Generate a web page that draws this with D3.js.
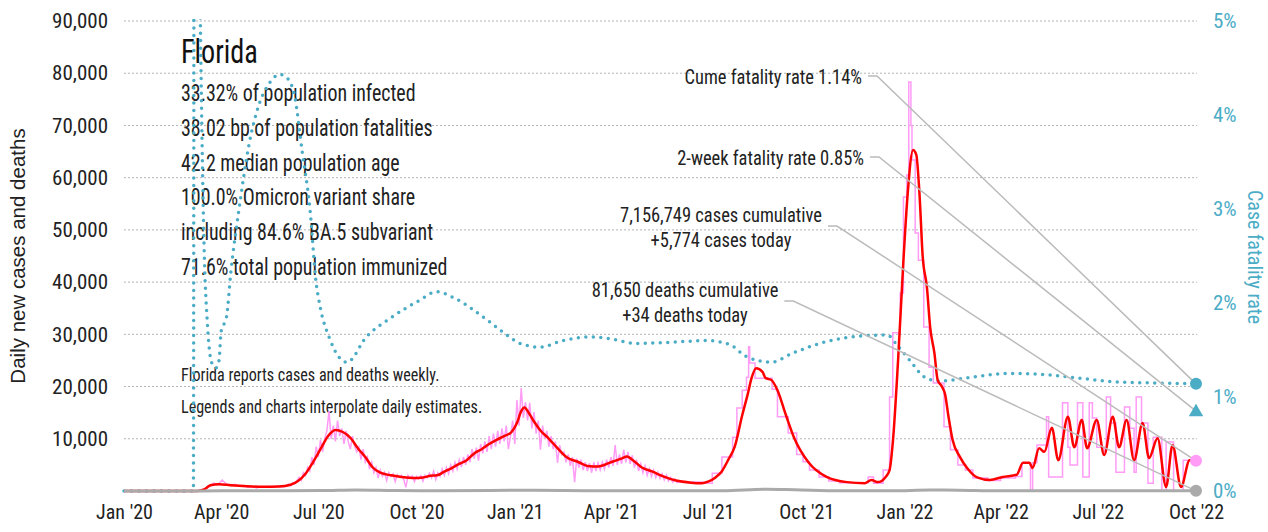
<!DOCTYPE html>
<html>
<head>
<meta charset="utf-8">
<script src="https://cdn.jsdelivr.net/npm/d3@7/dist/d3.min.js"></script>
<style>
  body { margin: 0; background: #fff; }
  svg text { font-family: 'Liberation Sans Narrow', 'Arial Narrow', 'Roboto Condensed', Roboto, sans-serif; fill: #222; }
</style>
</head>
<body>
<div id="chart"></div>
<script>
// ---- data ----
var caseTicks = [10000, 20000, 30000, 40000, 50000, 60000, 70000, 80000, 90000];
var rateTicks = [0, 1, 2, 3, 4, 5];
var monthTicks = ['2020-01-01', '2020-04-01', '2020-07-01', '2020-10-01', '2021-01-01', '2021-04-01',
  '2021-07-01', '2021-10-01', '2022-01-01', '2022-04-01', '2022-07-01', '2022-10-01'];

// 7-day average of new cases (red)
var casesAvg = [
  ['2020-01-01', 0], ['2020-03-10', 0], ['2020-03-16', 300], ['2020-03-22', 1100], ['2020-03-30', 1300],
  ['2020-04-10', 1100], ['2020-04-25', 900], ['2020-05-10', 800], ['2020-05-25', 850], ['2020-06-05', 1200],
  ['2020-06-12', 1900], ['2020-06-19', 3300], ['2020-06-26', 5500], ['2020-07-03', 8000], ['2020-07-10', 10500],
  ['2020-07-17', 11700], ['2020-07-24', 11300], ['2020-07-31', 10200], ['2020-08-07', 8200], ['2020-08-14', 6500],
  ['2020-08-21', 4500], ['2020-08-28', 3500], ['2020-09-07', 3000], ['2020-09-17', 2700], ['2020-09-27', 2500],
  ['2020-10-07', 2600], ['2020-10-14', 2900], ['2020-10-20', 3000], ['2020-10-27', 3700], ['2020-11-03', 4400],
  ['2020-11-10', 5200], ['2020-11-17', 5900], ['2020-11-24', 7200], ['2020-12-01', 8000], ['2020-12-08', 9000],
  ['2020-12-15', 9800], ['2020-12-22', 10500], ['2020-12-29', 11300], ['2021-01-03', 13000], ['2021-01-07', 15300],
  ['2021-01-10', 16000], ['2021-01-14', 15000], ['2021-01-19', 13300], ['2021-01-25', 11600], ['2021-02-02', 10000],
  ['2021-02-10', 8200], ['2021-02-19', 6400], ['2021-03-01', 5600], ['2021-03-10', 4800], ['2021-03-20', 4700],
  ['2021-04-01', 5500], ['2021-04-12', 6300], ['2021-04-16', 6600], ['2021-04-21', 6000], ['2021-04-30', 4500],
  ['2021-05-10', 3700], ['2021-05-20', 2800], ['2021-06-01', 2000], ['2021-06-15', 1600], ['2021-06-25', 1500],
  ['2021-07-01', 1800], ['2021-07-08', 2600], ['2021-07-14', 3800], ['2021-07-20', 6000], ['2021-07-26', 8500],
  ['2021-08-02', 14500], ['2021-08-07', 18400], ['2021-08-11', 21800], ['2021-08-15', 23500], ['2021-08-21', 22800],
  ['2021-08-24', 21600], ['2021-08-29', 21300], ['2021-09-04', 19300], ['2021-09-12', 14500], ['2021-09-20', 10000],
  ['2021-10-03', 5500], ['2021-10-20', 2700], ['2021-11-08', 1700], ['2021-11-25', 1500], ['2021-12-01', 2100],
  ['2021-12-07', 1700], ['2021-12-14', 2600], ['2021-12-18', 4000], ['2021-12-21', 9200], ['2021-12-26', 25100],
  ['2021-12-31', 44200], ['2022-01-04', 57000], ['2022-01-09', 65300], ['2022-01-12', 64400], ['2022-01-15', 57000],
  ['2022-01-18', 45000], ['2022-01-22', 39000], ['2022-01-25', 31400], ['2022-01-29', 26400], ['2022-02-01', 21300],
  ['2022-02-05', 20000], ['2022-02-08', 18500], ['2022-02-11', 14500], ['2022-02-15', 9800], ['2022-02-22', 6500],
  ['2022-03-01', 4300], ['2022-03-10', 2600], ['2022-03-22', 2100], ['2022-04-03', 2700], ['2022-04-16', 3100],
  ['2022-04-22', 5400], ['2022-04-28', 5400], ['2022-05-01', 4400], ['2022-05-07', 8200], ['2022-05-12', 7500],
  ['2022-05-19', 12100], ['2022-05-25', 5900], ['2022-06-03', 14200], ['2022-06-09', 8400], ['2022-06-16', 13600],
  ['2022-06-21', 8200], ['2022-06-30', 13600], ['2022-07-07', 6900], ['2022-07-15', 14200], ['2022-07-21', 8400],
  ['2022-07-28', 13600], ['2022-08-04', 5900], ['2022-08-12', 13000], ['2022-08-18', 6300], ['2022-08-26', 10100],
  ['2022-09-03', 770], ['2022-09-09', 8800], ['2022-09-17', 770], ['2022-09-25', 5900], ['2022-10-01', 5900]
];

// new cases (pink), spring 2020: one value every 4 days
var springStart = '2020-03-01';
var springEvery = 4;
var casesSpring = [
  0, 0, 0, 50, 300, 900, 1500, 1200, 2100, 1300, 1000, 1300, 900, 1100, 700, 900, 600, 800, 700, 900,
  700, 900, 800
];

// new cases (pink), Jun 2020 - Jun 2021: one value every 2 days
var dailyStart = '2020-06-01';
var dailyEvery = 2;
var casesDaily = [
  900, 1300, 1000, 1600, 1400, 2000, 2600, 2000, 3500, 3000, 4500, 3800, 6500, 5000, 8500,
  6500, 9800, 7500, 10000, 11500, 15300, 10000, 12500, 9500, 13500, 10500, 12000, 9000, 11500, 9500, 8000,
  10500, 8500, 7500, 8400, 6000, 8000, 5500, 6500, 4200, 5500, 3500, 4500, 2500, 4000, 2800,
  3600, 2000, 3500, 2800, 3300, 1800, 3100, 2600, 3000, 2200, 700, 3000, 2500, 2900, 1800,
  2800, 2300, 2900, 1900, 3000, 2500, 3400, 2500, 3800, 2200, 3500, 2800, 4200, 3000, 4500, 3300,
  5000, 3800, 5500, 4200, 6000, 4600, 6500, 5000, 7000, 5500, 8000, 6200, 8300, 5800, 9000,
  7200, 9500, 7500, 10500, 8000, 11000, 8500, 11500, 9000, 12000, 9500, 12500, 8000, 10500, 13500,
  9000, 17400, 12500, 19700, 14000, 17000, 13500, 16900, 12000, 15100, 11000, 13500, 7900, 12500, 10000, 11500,
  8500, 10500, 8000, 9500, 5400, 8800, 7000, 7500, 5500, 7000, 4800, 6500, 1700, 6200,
  4500, 6000, 4000, 5500, 3800, 5300, 3500, 5500, 3800, 5400, 4000, 5500, 4200, 6000, 4500,
  6500, 4800, 8800, 5000, 7000, 5200, 7900, 5500, 7500, 5200, 6800, 4500, 6000, 3800, 5200,
  3500, 4800, 3000, 4300, 2800, 4000, 2600, 3600, 2400, 3300, 2100, 3000, 1900, 2600, 1700, 2300,
  1600, 1700
];

// weekly-reported period (pink, stepped)
var casesWeekly = [
  ['2021-06-04', 1700], ['2021-06-25', 1500], ['2021-07-05', 3400], ['2021-07-14', 6500], ['2021-07-24', 10300],
  ['2021-07-28', 15900], ['2021-08-02', 19300], ['2021-08-06', 21800], ['2021-08-08', 27600], ['2021-08-09', 24500],
  ['2021-08-14', 21600], ['2021-08-30', 19500], ['2021-09-04', 14200], ['2021-09-14', 11100], ['2021-09-22', 7000],
  ['2021-09-28', 5600], ['2021-10-04', 4000], ['2021-10-13', 2700], ['2021-10-22', 1900], ['2021-11-01', 1600],
  ['2021-11-28', 2700], ['2021-12-03', 1500], ['2021-12-12', 4000], ['2021-12-18', 18000], ['2021-12-21', 30300],
  ['2021-12-28', 37900], ['2021-12-31', 56300], ['2022-01-03', 60500], ['2022-01-05', 78300], ['2022-01-07', 70000],
  ['2022-01-08', 63400], ['2022-01-11', 49400], ['2022-01-14', 44200], ['2022-01-19', 31400], ['2022-01-24', 23700],
  ['2022-01-28', 20700], ['2022-02-07', 12300], ['2022-02-13', 7900], ['2022-02-20', 5000], ['2022-02-27', 4000],
  ['2022-03-06', 2500], ['2022-03-20', 2000], ['2022-04-01', 2500], ['2022-04-15', 2800], ['2022-04-21', 5400],
  ['2022-04-29', 0], ['2022-05-01', 5400], ['2022-05-05', 8800], ['2022-05-14', 14200], ['2022-05-16', 2700],
  ['2022-05-29', 16900], ['2022-06-03', 8400], ['2022-06-05', 5000], ['2022-06-12', 16900], ['2022-06-17', 2700],
  ['2022-06-23', 16900], ['2022-06-26', 14000], ['2022-06-30', 8400], ['2022-07-07', 7500], ['2022-07-09', 18000],
  ['2022-07-13', 13000], ['2022-07-18', 3600], ['2022-07-26', 16100], ['2022-07-31', 12000], ['2022-08-04', 3600],
  ['2022-08-06', 18000], ['2022-08-11', 13000], ['2022-08-17', 1500], ['2022-08-22', 10300], ['2022-08-30', 0],
  ['2022-09-03', 9400], ['2022-09-10', 0], ['2022-09-19', 5900], ['2022-10-01', 5900]
];

// 7-day average of deaths (grey)
var deathsAvg = [
  ['2020-01-01', 0], ['2020-03-15', 0], ['2020-04-15', 55], ['2020-06-01', 40], ['2020-07-10', 100],
  ['2020-08-05', 185], ['2020-09-10', 100], ['2020-10-20', 60], ['2020-12-10', 100], ['2021-01-20', 160],
  ['2021-03-10', 70], ['2021-06-01', 40], ['2021-07-15', 60], ['2021-08-25', 350], ['2021-09-20', 250],
  ['2021-11-01', 50], ['2021-12-20', 30], ['2022-01-25', 200], ['2022-02-20', 150], ['2022-04-01', 40],
  ['2022-06-01', 30], ['2022-08-01', 60], ['2022-10-01', 40]
];

// cumulative case fatality rate, percent (teal dotted)
var fatalityRate = [
  ['2020-01-01', 0], ['2020-03-06', 0], ['2020-03-07', 12], ['2020-03-12', 5.5], ['2020-03-14', 3.8],
  ['2020-03-16', 2.6], ['2020-03-19', 1.8], ['2020-03-23', 1.37], ['2020-03-27', 1.31], ['2020-03-30', 1.39],
  ['2020-04-01', 1.7], ['2020-04-06', 1.85], ['2020-04-10', 2.32], ['2020-04-18', 3.02], ['2020-04-27', 3.68],
  ['2020-05-07', 4.13], ['2020-05-14', 4.30], ['2020-05-26', 4.43], ['2020-06-02', 4.39], ['2020-06-09', 4.19],
  ['2020-06-16', 3.60], ['2020-06-23', 3.02], ['2020-06-29', 2.21], ['2020-07-02', 2.0], ['2020-07-12', 1.61],
  ['2020-07-28', 1.37], ['2020-08-15', 1.64], ['2020-09-08', 1.85], ['2020-10-04', 2.03], ['2020-10-20', 2.12],
  ['2020-11-04', 2.06], ['2020-12-06', 1.82], ['2020-12-21', 1.69], ['2021-01-06', 1.57], ['2021-01-25', 1.53],
  ['2021-02-15', 1.60], ['2021-03-12', 1.64], ['2021-03-31', 1.62], ['2021-04-25', 1.57], ['2021-05-23', 1.58],
  ['2021-06-30', 1.60], ['2021-07-21', 1.56], ['2021-08-06', 1.43], ['2021-08-29', 1.37], ['2021-09-19', 1.47],
  ['2021-10-20', 1.59], ['2021-11-23', 1.65], ['2021-12-16', 1.66], ['2021-12-25', 1.55], ['2022-01-06', 1.39],
  ['2022-01-20', 1.21], ['2022-02-02', 1.17], ['2022-03-05', 1.21], ['2022-04-08', 1.25], ['2022-05-11', 1.24],
  ['2022-06-14', 1.20], ['2022-07-19', 1.16], ['2022-08-21', 1.15], ['2022-10-01', 1.14]
];

var lastDate = '2022-10-01';
var cumeRate = 1.14;
var twoWeekRate = 0.85;
var casesCumulative = 7156749;
var casesToday = 5774;
var deathsCumulative = 81650;
var deathsToday = 34;

var stateName = 'Florida';
var stats = [
  '33.32% of population infected',
  '38.02 bp of population fatalities',
  '42.2 median population age',
  '100.0% Omicron variant share',
  'including 84.6% BA.5 subvariant',
  '71.6% total population immunized'
];
var notes = [
  'Florida reports cases and deaths weekly.',
  'Legends and charts interpolate daily estimates.'
];

// ---- chart ----
var teal = '#4bacc6';
var pink = '#ff9cf6';
var parse = d3.utcParse('%Y-%m-%d');
var fmt = d3.format(',');

var svg = d3.select('#chart')
  .append('svg')
  .attr('width', 1268)
  .attr('height', 532);

var x = d3.scaleUtc()
  .domain([parse('2020-01-01'), parse('2022-10-01')])
  .range([124, 1196]);
var yCases = d3.scaleLinear().domain([0, 90000]).range([491, 21]);
var yRate = d3.scaleLinear().domain([0, 5]).range([491, 21]);

// squeeze text sideways, the reference uses a condensed face
function condense(sel, sx) {
  sel.each(function() {
    var t = d3.select(this);
    var tx = +t.attr('x') || 0, ty = +t.attr('y') || 0;
    t.attr('x', 0).attr('y', 0)
      .attr('transform', 'translate(' + tx + ',' + ty + ') scale(' + sx + ',1)');
  });
}

svg.append('defs')
  .append('clipPath')
  .attr('id', 'plot-clip')
  .append('rect')
  .attr('x', 120).attr('y', 19)
  .attr('width', 1090).attr('height', 480);

// grid
svg.append('g')
  .attr('class', 'grid')
  .selectAll('line')
  .data(caseTicks)
  .enter()
  .append('line')
  .attr('x1', 124)
  .attr('x2', 1197)
  .attr('y1', d => yCases(d))
  .attr('y2', d => yCases(d))
  .style('stroke', '#b4b4b4')
  .style('stroke-width', 1)
  .style('stroke-dasharray', '2,2');

// left axis
var leftAxis = svg.append('g')
  .attr('transform', 'translate(124,0)')
  .call(d3.axisLeft(yCases).tickValues(caseTicks).tickFormat(fmt).tickSize(0).tickPadding(16));
leftAxis.select('.domain').remove();
leftAxis.selectAll('text').style('font-size', '21px').style('fill', '#222');

// right axis
var rightAxis = svg.append('g')
  .attr('transform', 'translate(1205,0)')
  .call(d3.axisRight(yRate).tickValues(rateTicks).tickFormat(d => d + '%').tickSize(0).tickPadding(8));
rightAxis.select('.domain').remove();
rightAxis.selectAll('text').style('font-size', '21px').style('fill', teal);

// bottom axis
var bottomAxis = svg.append('g')
  .attr('transform', 'translate(0,491)')
  .call(d3.axisBottom(x).tickValues(monthTicks.map(parse)).tickFormat(d3.utcFormat("%b '%y")).tickSize(0).tickPadding(14));
bottomAxis.select('.domain').remove();
bottomAxis.selectAll('text').style('font-size', '20px').style('fill', '#222');

// axis titles
svg.append('text')
  .attr('transform', 'translate(25,256) rotate(-90)')
  .attr('text-anchor', 'middle')
  .style('font-family', "'Liberation Sans', Arial, sans-serif")
  .style('font-size', '20.5px')
  .text('Daily new cases and deaths');

svg.append('text')
  .attr('transform', 'translate(1248,257) rotate(90)')
  .attr('text-anchor', 'middle')
  .style('font-size', '20px')
  .style('fill', teal)
  .text('Case fatality rate');

// title block
var info = svg.append('g').attr('class', 'info');
info.append('text')
  .attr('x', 181).attr('y', 63)
  .style('font-size', '34px')
  .style('fill', '#111')
  .text(stateName)
  .call(condense, 0.83);
info.selectAll('text.stat')
  .data(stats)
  .enter()
  .append('text')
  .attr('class', 'stat')
  .attr('x', 181)
  .attr('y', (d, i) => 101 + i * 34.8)
  .style('font-size', '24px')
  .text(d => d)
  .call(condense, 0.83);
info.selectAll('text.note')
  .data(notes)
  .enter()
  .append('text')
  .attr('class', 'note')
  .attr('x', 181)
  .attr('y', (d, i) => 381 + i * 32)
  .style('font-size', '18.5px')
  .text(d => d)
  .call(condense, 0.87);

// series
var plot = svg.append('g').attr('clip-path', 'url(#plot-clip)');

plot.append('path')
  .datum(fatalityRate)
  .attr('d', d3.line().x(d => x(parse(d[0]))).y(d => yRate(d[1])).curve(d3.curveMonotoneX))
  .style('fill', 'none')
  .style('stroke', teal)
  .style('stroke-width', 3.5)
  .style('stroke-linecap', 'round')
  .style('stroke-dasharray', '0,7.5');

var dailyPoints = casesSpring.map((v, i) => [d3.utcDay.offset(parse(springStart), i * springEvery), v])
  .concat(casesDaily.map((v, i) => [d3.utcDay.offset(parse(dailyStart), i * dailyEvery), v]));
plot.append('path')
  .datum(dailyPoints)
  .attr('d', d3.line().x(d => x(d[0])).y(d => yCases(d[1])))
  .style('fill', 'none')
  .style('stroke', pink)
  .style('stroke-width', 1.5);

plot.append('path')
  .datum(casesWeekly)
  .attr('d', d3.line().x(d => x(parse(d[0]))).y(d => yCases(d[1])).curve(d3.curveStepAfter))
  .style('fill', 'none')
  .style('stroke', pink)
  .style('stroke-width', 1.5);

plot.append('path')
  .datum(casesAvg)
  .attr('d', d3.line().x(d => x(parse(d[0]))).y(d => yCases(d[1])).curve(d3.curveMonotoneX))
  .style('fill', 'none')
  .style('stroke', '#ff0000')
  .style('stroke-width', 2.5);

plot.append('path')
  .datum(deathsAvg)
  .attr('d', d3.line().x(d => x(parse(d[0]))).y(d => yCases(d[1])).curve(d3.curveMonotoneX))
  .style('fill', 'none')
  .style('stroke', '#aaa')
  .style('stroke-width', 3);

// callouts
var xEnd = x(parse(lastDate));
var callouts = [
  { lines: ['Cume fatality rate ' + cumeRate.toFixed(2) + '%'], anchor: 'end', x: 862, y: 84, ty: yRate(cumeRate) },
  { lines: ['2-week fatality rate ' + twoWeekRate.toFixed(2) + '%'], anchor: 'end', x: 864, y: 165, ty: yRate(twoWeekRate) },
  { lines: [fmt(casesCumulative) + ' cases cumulative', '+' + fmt(casesToday) + ' cases today'], anchor: 'middle', x: 721, y: 222, ty: yCases(casesToday) },
  { lines: [fmt(deathsCumulative) + ' deaths cumulative', '+' + fmt(deathsToday) + ' deaths today'], anchor: 'middle', x: 685, y: 297, ty: yCases(deathsToday) }
];

var leaders = svg.append('g').attr('class', 'leaders');
var labels = svg.append('g').attr('class', 'labels');

callouts.forEach(function(c) {
  var first;
  c.lines.forEach(function(t, i) {
    var el = labels.append('text')
      .attr('x', c.x)
      .attr('y', c.y + i * 24.5)
      .attr('text-anchor', c.anchor)
      .style('font-size', '21px')
      .text(t)
      .call(condense, 0.88);
    if (i === 0) first = el;
  });
  var box = first.node().getBoundingClientRect();
  var ly = c.lines.length > 1 ? c.y + 4 : c.y - 8;
  var lx = box.right + 6;
  leaders.append('polyline')
    .attr('points', [[lx, ly], [lx + 9, ly], [xEnd, c.ty]].join(' '))
    .style('fill', 'none')
    .style('stroke', '#bbb')
    .style('stroke-width', 1.5);
});

// end markers
var markers = svg.append('g').attr('class', 'markers');
markers.append('circle')
  .attr('cx', xEnd).attr('cy', yRate(cumeRate)).attr('r', 6)
  .style('fill', teal);
markers.append('path')
  .attr('d', d3.symbol().type(d3.symbolTriangle).size(90))
  .attr('transform', 'translate(' + xEnd + ',' + (yRate(twoWeekRate) + 1) + ')')
  .style('fill', teal);
markers.append('circle')
  .attr('cx', xEnd).attr('cy', yCases(casesToday)).attr('r', 6)
  .style('fill', pink);
markers.append('circle')
  .attr('cx', xEnd).attr('cy', yCases(deathsToday)).attr('r', 6)
  .style('fill', '#aaa');
</script>
</body>
</html>
